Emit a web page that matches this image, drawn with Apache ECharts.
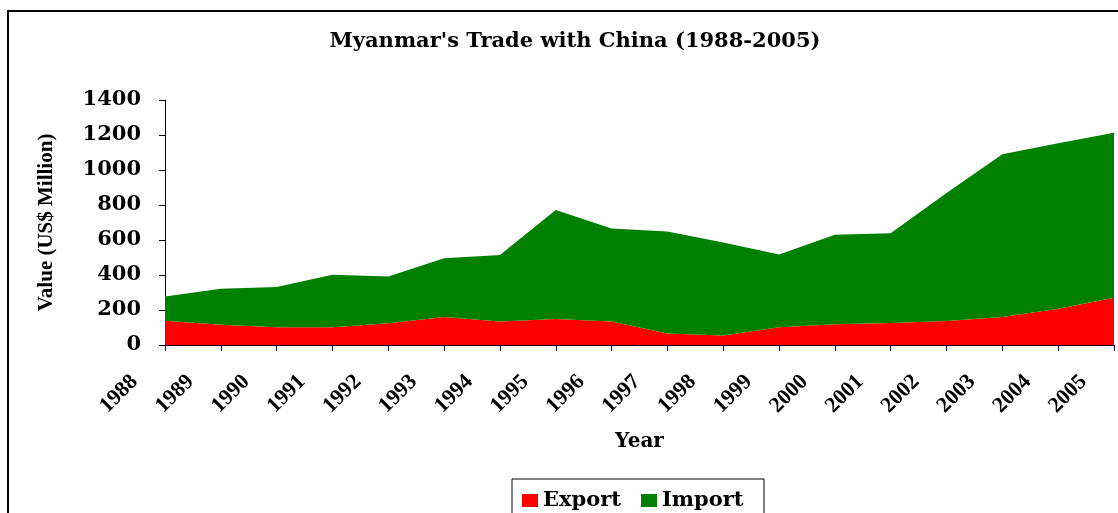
<!DOCTYPE html>
<html>
<head>
<meta charset="utf-8">
<script src="https://cdn.jsdelivr.net/npm/echarts@6/dist/echarts.min.js"></script>
<style>
  html, body { margin: 0; padding: 0; background: #fff; }
  #chart { width: 1118px; height: 513px; }
</style>
</head>
<body>
<div id="chart"></div>
<script>
// years on the category axis
var years = ['1988', '1989', '1990', '1991', '1992', '1993', '1994', '1995', '1996',
             '1997', '1998', '1999', '2000', '2001', '2002', '2003', '2004', '2005'];
// US$ million
var exportValues = [139, 116, 101, 101, 125, 160, 135, 148, 135, 66, 55, 101, 118, 126, 137, 160, 207, 270];
var importValues = [138, 205, 230, 300, 267, 336, 380, 624, 531, 582, 531, 416, 512, 513, 731, 930, 946, 943];
var yTicks = [0, 200, 400, 600, 800, 1000, 1200, 1400];

var serif = '"DejaVu Serif", "Liberation Serif", serif';
var narrowSerif = '"Liberation Serif", serif';
var myChart = echarts.init(document.getElementById('chart'));
myChart.setOption({
    animation: false,
    title: {
        text: "Myanmar's Trade with China (1988-2005)",
        left: 570,
        top: 26,
        textAlign: 'center',
        textStyle: { fontFamily: serif, fontSize: 21, fontWeight: 'bold', color: '#000' }
    },
    graphic: [{
        type: 'rect',
        shape: { x: 8, y: 11, width: 1200, height: 600 },
        style: { fill: 'none', stroke: '#000', lineWidth: 2 },
        z: 100
    }, {
        type: 'rect',
        shape: { x: 512, y: 479, width: 252, height: 60 },
        style: { fill: '#fff', stroke: '#000', lineWidth: 1 },
        z: 1
    }],
    legend: {
        left: 517,
        top: 485,
        itemWidth: 16,
        itemHeight: 13,
        itemGap: 20,
        z: 10,
        data: [
            { name: 'Export', icon: 'rect' },
            { name: 'Import', icon: 'rect' }
        ],
        textStyle: { fontFamily: serif, fontSize: 21, fontWeight: 'bold', color: '#000' }
    },
    grid: { left: 165, right: 4, top: 100, bottom: 168 },
    xAxis: {
        type: 'category',
        boundaryGap: false,
        data: years,
        name: 'Year',
        nameLocation: 'middle',
        nameGap: 87,
        nameTextStyle: { fontFamily: serif, fontSize: 20, fontWeight: 'bold', color: '#000' },
        axisLine: { lineStyle: { color: '#000', width: 1 } },
        axisTick: { alignWithLabel: true, length: 6, lineStyle: { color: '#000' } },
        axisLabel: {
            rotate: 45,
            interval: 0,
            margin: 3,
            padding: [0, 43, 0, 0],
            fontFamily: narrowSerif,
            fontSize: 22,
            fontWeight: 'bold',
            color: '#000'
        }
    },
    yAxis: {
        type: 'value',
        min: yTicks[0],
        max: yTicks[yTicks.length - 1],
        interval: 200,
        name: 'Value (US$ Million)',
        nameLocation: 'middle',
        nameGap: 108,
        nameTextStyle: { fontFamily: narrowSerif, fontSize: 21, fontWeight: 'bold', color: '#000' },
        axisLine: { show: true, lineStyle: { color: '#000', width: 1 } },
        axisTick: { show: true, length: 6, lineStyle: { color: '#000' } },
        splitLine: { show: false },
        axisLabel: {
            margin: 24,
            fontFamily: serif,
            fontSize: 21,
            fontWeight: 'bold',
            color: '#000',
            formatter: function (v) { return String(v); }
        }
    },
    series: [{
        name: 'Export',
        type: 'line',
        stack: 'trade',
        data: exportValues,
        symbol: 'none',
        color: '#ff0000',
        lineStyle: { width: 0 },
        areaStyle: { color: '#ff0000', opacity: 1 }
    }, {
        name: 'Import',
        type: 'line',
        stack: 'trade',
        data: importValues,
        symbol: 'none',
        color: '#008000',
        lineStyle: { width: 0 },
        areaStyle: { color: '#008000', opacity: 1 }
    }]
});
</script>
</body>
</html>
